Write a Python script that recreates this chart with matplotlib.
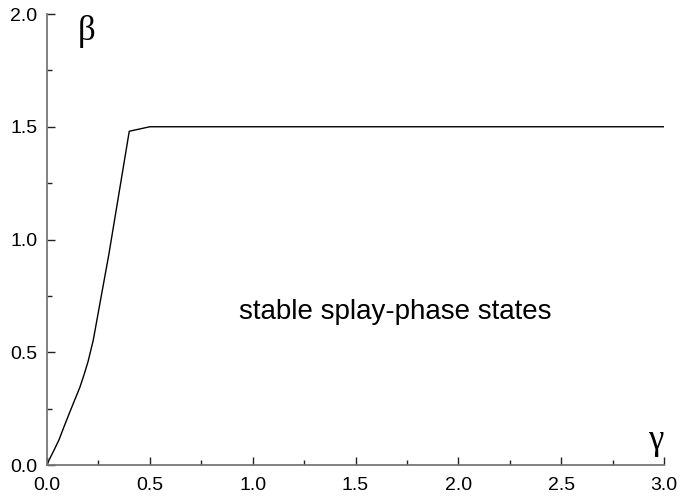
import matplotlib
matplotlib.use('Agg')

import matplotlib.pyplot as plt
from matplotlib.ticker import MultipleLocator

# boundary of the stable region in the (gamma, beta) plane
gamma = [0.0, 0.01, 0.03, 0.058, 0.085, 0.115, 0.14, 0.16, 0.18, 0.20, 0.225,
         0.26, 0.30, 0.34, 0.40, 0.50, 3.0]
beta = [0.0, 0.022, 0.058, 0.111, 0.175, 0.244, 0.30, 0.345, 0.40, 0.46, 0.554,
        0.73, 0.93, 1.15, 1.48, 1.50, 1.50]

xticks = [0.0, 0.5, 1.0, 1.5, 2.0, 2.5, 3.0]
yticks = [0.0, 0.5, 1.0, 1.5, 2.0]

plt.rcParams['font.family'] = ['Liberation Sans', 'DejaVu Sans']

DPI = 100
fig = plt.figure(figsize=(694 / DPI, 497 / DPI), dpi=DPI)
ax = fig.add_axes([47 / 694, 1 - 465 / 497, 617 / 694, 451 / 497])

ax.plot(gamma, beta, color='black', linewidth=1.0)

ax.set_xlim(0, 3.0)
ax.set_ylim(0, 2.0)
ax.set_xticks(xticks)
ax.set_yticks(yticks)
ax.set_xticklabels(['%.1f' % v for v in xticks])
ax.set_yticklabels(['%.1f' % v for v in yticks])
ax.xaxis.set_minor_locator(MultipleLocator(0.25))
ax.yaxis.set_minor_locator(MultipleLocator(0.25))

for s in ['top', 'right']:
    ax.spines[s].set_visible(False)
for s in ['left', 'bottom']:
    ax.spines[s].set_color('#777777')
    ax.spines[s].set_linewidth(1.3)

ax.tick_params(which='major', direction='in', length=6, width=1, color='#222222',
               labelsize=14)
ax.tick_params(which='minor', direction='in', length=3.5, width=1, color='#222222')
ax.tick_params(axis='y', which='major', pad=7)
ax.tick_params(axis='x', which='major', pad=9)

ax.text(0.564, 0.34, 'stable splay-phase states', transform=ax.transAxes,
        fontsize=20, ha='center', va='center')
ax.text(0.065, 0.962, '\u03b2', transform=ax.transAxes, fontsize=25,
        ha='center', va='center', family=['Liberation Serif', 'DejaVu Serif'])
ax.text(0.987, 0.055, '\u03b3', transform=ax.transAxes, fontsize=25,
        ha='center', va='center', family=['Liberation Serif', 'DejaVu Serif'])

fig.savefig('out.png', dpi=DPI)
